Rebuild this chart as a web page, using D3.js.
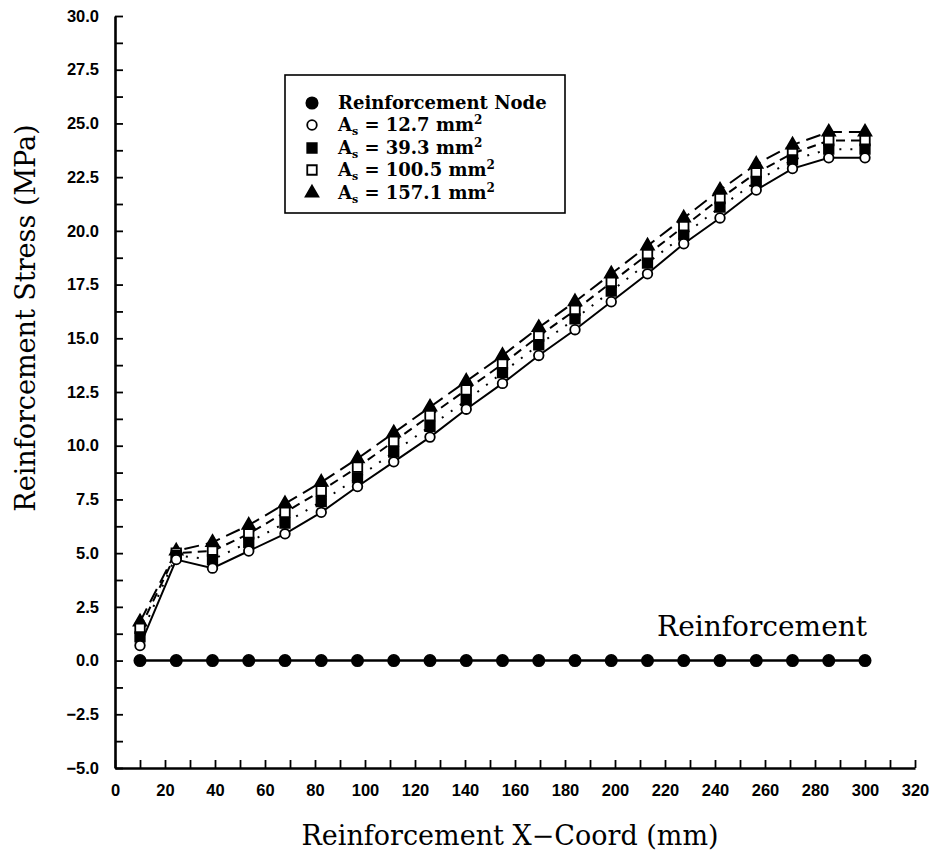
<!DOCTYPE html>
<html>
<head>
<meta charset="utf-8">
<script src="https://cdn.jsdelivr.net/npm/d3@7"></script>
<style>
  body { margin: 0; background: #fff; }
  svg { display: block; }
</style>
</head>
<body>
<svg id="chart" width="942" height="855"></svg>
<script>
// Node positions along the bar (mm)
const xCoords = [10, 24.5, 39, 53.5, 68, 82.5, 97, 111.5, 126, 140.5, 155,
                 169.5, 184, 198.5, 213, 227.5, 242, 256.5, 271, 285.5, 300];

// Reinforcement node row (stress axis origin)
const nodeStress = [0, 0, 0, 0, 0, 0, 0, 0, 0, 0, 0, 0, 0, 0, 0, 0, 0, 0, 0, 0, 0];

// Reinforcement stress (MPa) for each bar area
const stressAs127 = [0.7, 4.7, 4.3, 5.1, 5.9, 6.9, 8.1, 9.25, 10.4, 11.7, 12.9,
                     14.2, 15.4, 16.7, 18.0, 19.4, 20.6, 21.9, 22.9, 23.4, 23.4];
const stressAs393 = [1.1, 4.9, 4.7, 5.5, 6.4, 7.4, 8.5, 9.7, 10.9, 12.1, 13.4,
                     14.7, 15.9, 17.2, 18.5, 19.8, 21.1, 22.3, 23.3, 23.8, 23.8];
const stressAs1005 = [1.5, 5.0, 5.1, 5.9, 6.9, 7.9, 9.0, 10.2, 11.4, 12.6, 13.8,
                      15.1, 16.3, 17.6, 18.9, 20.2, 21.5, 22.7, 23.6, 24.2, 24.2];
const stressAs1571 = [1.8, 5.1, 5.5, 6.3, 7.3, 8.3, 9.4, 10.6, 11.8, 13.0, 14.2,
                      15.5, 16.7, 18.0, 19.3, 20.6, 21.9, 23.1, 24.0, 24.6, 24.6];

// Axis labels
const xTickLabels = [0, 20, 40, 60, 80, 100, 120, 140, 160, 180, 200, 220, 240, 260, 280, 300, 320];
const yTickLabels = [-5, -2.5, 0, 2.5, 5, 7.5, 10, 12.5, 15, 17.5, 20, 22.5, 25, 27.5, 30];

// Legend entries
const legendAreas = ["12.7", "39.3", "100.5", "157.1"];

const svg = d3.select("#chart");

const x = d3.scaleLinear().domain([0, 320]).range([115, 915]);
const y = d3.scaleLinear().domain([-5, 30]).range([768, 16]);

const tickFont = "'Liberation Sans', Arial, sans-serif";
const titleFont = "'DejaVu Serif', serif";

// ---- axes ----
const xMinor = d3.range(0, 321, 10);
const yMinor = d3.range(-5, 30.01, 1.25);
const fmt = d3.format(".1f");

const xAxis = svg.append("g")
  .attr("transform", `translate(0,${y(-5)})`)
  .call(d3.axisBottom(x)
    .tickValues(xMinor)
    .tickSizeInner(-8)
    .tickSizeOuter(0)
    .tickPadding(16)
    .tickFormat(d => xTickLabels.includes(d) ? d : ""));

const yAxis = svg.append("g")
  .attr("transform", `translate(${x(0)},0)`)
  .call(d3.axisLeft(y)
    .tickValues(yMinor)
    .tickSizeInner(-8)
    .tickSizeOuter(0)
    .tickPadding(16)
    .tickFormat(d => yTickLabels.includes(d) ? fmt(d) : ""));

[xAxis, yAxis].forEach(g => {
  g.select(".domain").attr("stroke", "#000").attr("stroke-width", 2.6);
  g.selectAll(".tick line").attr("stroke", "#000").attr("stroke-width", 1.8);
  g.selectAll(".tick text")
    .attr("fill", "#000")
    .style("font-family", tickFont)
    .style("font-weight", "bold")
    .style("font-size", "16.5px");
});

// axis titles
svg.append("text")
  .attr("x", 510).attr("y", 845)
  .attr("text-anchor", "middle")
  .style("font-family", titleFont)
  .style("font-size", "27px")
  .text("Reinforcement X\u2212Coord (mm)");

svg.append("text")
  .attr("transform", "translate(35,318) rotate(-90)")
  .attr("text-anchor", "middle")
  .style("font-family", titleFont)
  .style("font-size", "27px")
  .text("Reinforcement Stress (MPa)");

// ---- series ----
const series = [
  { values: stressAs127,  dash: null,    marker: "circleOpen" },
  { values: stressAs393,  dash: "2,9",   marker: "squareFilled" },
  { values: stressAs1005, dash: "9,6",   marker: "squareOpen" },
  { values: stressAs1571, dash: "15,7",  marker: "triangle" }
];

const line = d3.line().x(d => x(d[0])).y(d => y(d[1]));

series.forEach(s => {
  svg.append("path")
    .datum(xCoords.map((xv, i) => [xv, s.values[i]]))
    .attr("fill", "none")
    .attr("stroke", "#000")
    .attr("stroke-width", 2)
    .attr("stroke-dasharray", s.dash)
    .attr("d", line);
});

// node row
svg.append("path")
  .datum(xCoords.map((xv, i) => [xv, nodeStress[i]]))
  .attr("fill", "none")
  .attr("stroke", "#000")
  .attr("stroke-width", 2.6)
  .attr("d", line);

const markerDefs = {
  nodeFilled:   { type: d3.symbolCircle,   size: 100, fill: "#000" },
  circleOpen:   { type: d3.symbolCircle,   size: 72,  fill: "#fff" },
  squareFilled: { type: d3.symbolSquare,   size: 90,  fill: "#000" },
  squareOpen:   { type: d3.symbolSquare,   size: 90,  fill: "#fff" },
  triangle:     { type: d3.symbolTriangle, size: 70,  fill: "#000" }
};

function drawMarker(g, key, cx, cy) {
  const m = markerDefs[key];
  g.append("path")
    .attr("transform", `translate(${cx},${cy})`)
    .attr("d", d3.symbol().type(m.type).size(m.size)())
    .attr("fill", m.fill)
    .attr("stroke", "#000")
    .attr("stroke-width", 1.8);
}

const markerLayer = svg.append("g");
[series[3], series[2], series[1], series[0]].forEach(s => {
  xCoords.forEach((xv, i) => drawMarker(markerLayer, s.marker, x(xv), y(s.values[i])));
});
xCoords.forEach((xv, i) => drawMarker(markerLayer, "nodeFilled", x(xv), y(nodeStress[i])));

// label over the node row
svg.append("text")
  .attr("x", x(300) + 2).attr("y", 636)
  .attr("text-anchor", "end")
  .style("font-family", titleFont)
  .style("font-size", "28px")
  .text("Reinforcement");

// ---- legend ----
const legend = svg.append("g");
legend.append("rect")
  .attr("x", 285).attr("y", 75)
  .attr("width", 280).attr("height", 138)
  .attr("fill", "#fff")
  .attr("stroke", "#000")
  .attr("stroke-width", 1.6);

const rowY = [103, 125, 148, 170, 193];
const legendMarkers = ["nodeFilled", "circleOpen", "squareFilled", "squareOpen", "triangle"];

legendMarkers.forEach((k, i) => drawMarker(legend, k, 312, rowY[i]));

const legendText = (ly) => legend.append("text")
  .attr("x", 338).attr("y", ly + 6)
  .style("font-family", titleFont)
  .style("font-weight", "bold")
  .style("font-size", "18px");

legendText(rowY[0]).text("Reinforcement Node");
legendAreas.forEach((a, i) => {
  const t = legendText(rowY[i + 1]);
  t.append("tspan").text("A");
  t.append("tspan").attr("dy", 4).style("font-size", "11px").text("s");
  t.append("tspan").attr("dy", -4).text(` = ${a} mm`);
  t.append("tspan").attr("dy", -7).style("font-size", "12px").text("2");
});
</script>
</body>
</html>
